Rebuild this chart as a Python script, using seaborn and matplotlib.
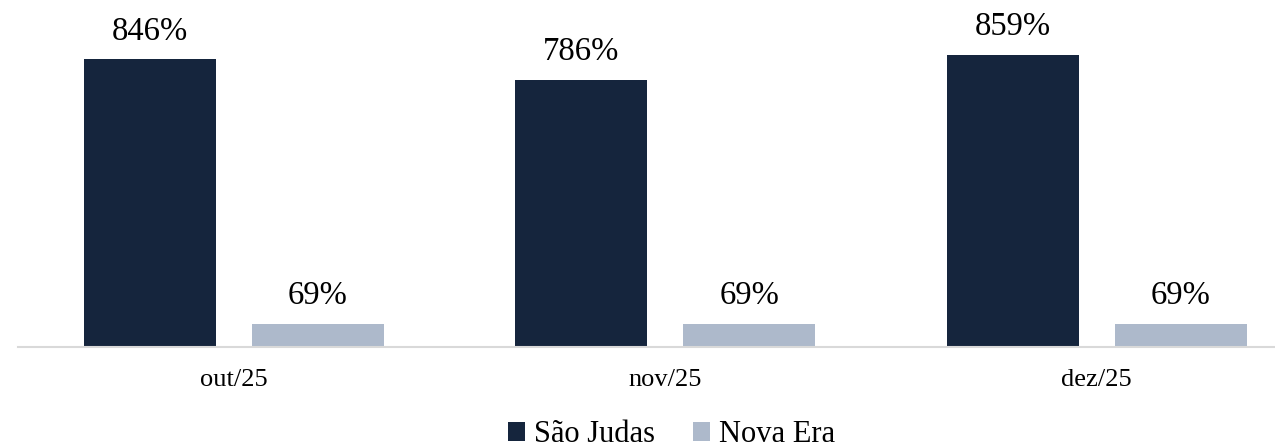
import numpy as np
import pandas as pd
import seaborn as sns
import matplotlib.pyplot as plt

#%% data
months = ['out/25', 'nov/25', 'dez/25']
series = ['São Judas', 'Nova Era']
sao_judas = [846, 786, 859]
nova_era = [69, 69, 69]
colors = ['#15253d', '#adb9cb']

df = pd.DataFrame({
    'mes': months * 2,
    'serie': [series[0]] * 3 + [series[1]] * 3,
    'valor': sao_judas + nova_era,
})

#%% plot
sns.set_theme(style='white')
plt.rcParams['font.family'] = ['Liberation Serif', 'DejaVu Serif']

fig = plt.figure(figsize=(12.75, 4.47), dpi=100)
ax = fig.add_axes([18 / 1275, 100 / 447, 1257 / 1275, 340 / 447])

sns.barplot(data=df, x='mes', y='valor', hue='serie', hue_order=series,
            palette=colors, width=0.777, gap=0.212, saturation=1,
            linewidth=0, ax=ax)

for cont in ax.containers:
    ax.bar_label(cont, labels=[f'{v:.0f}%' for v in cont.datavalues],
                 padding=9, fontsize=23.5, color='black')

ax.set_ylim(0, 1000)
ax.set_xlim(-0.5, -0.5 + 1257 / 431.5)
ax.set_xlabel('')
ax.set_ylabel('')
ax.set_yticks([])
for s in ['top', 'right', 'left']:
    ax.spines[s].set_visible(False)
ax.spines['bottom'].set_color('#d9d9d9')
ax.spines['bottom'].set_linewidth(1.5)
ax.tick_params(axis='x', length=0, pad=16, labelsize=19, labelcolor='black')

handles, labels = ax.get_legend_handles_labels()
ax.legend(handles, labels, loc='center', bbox_to_anchor=(0.527, 12 / 447),
          bbox_transform=fig.transFigure, ncol=2, frameon=False, fontsize=22,
          labelcolor='black', handlelength=0.55, handleheight=0.55,
          handletextpad=0.3, columnspacing=1.25, borderpad=0.2)

plt.savefig('out.png', dpi=100)
